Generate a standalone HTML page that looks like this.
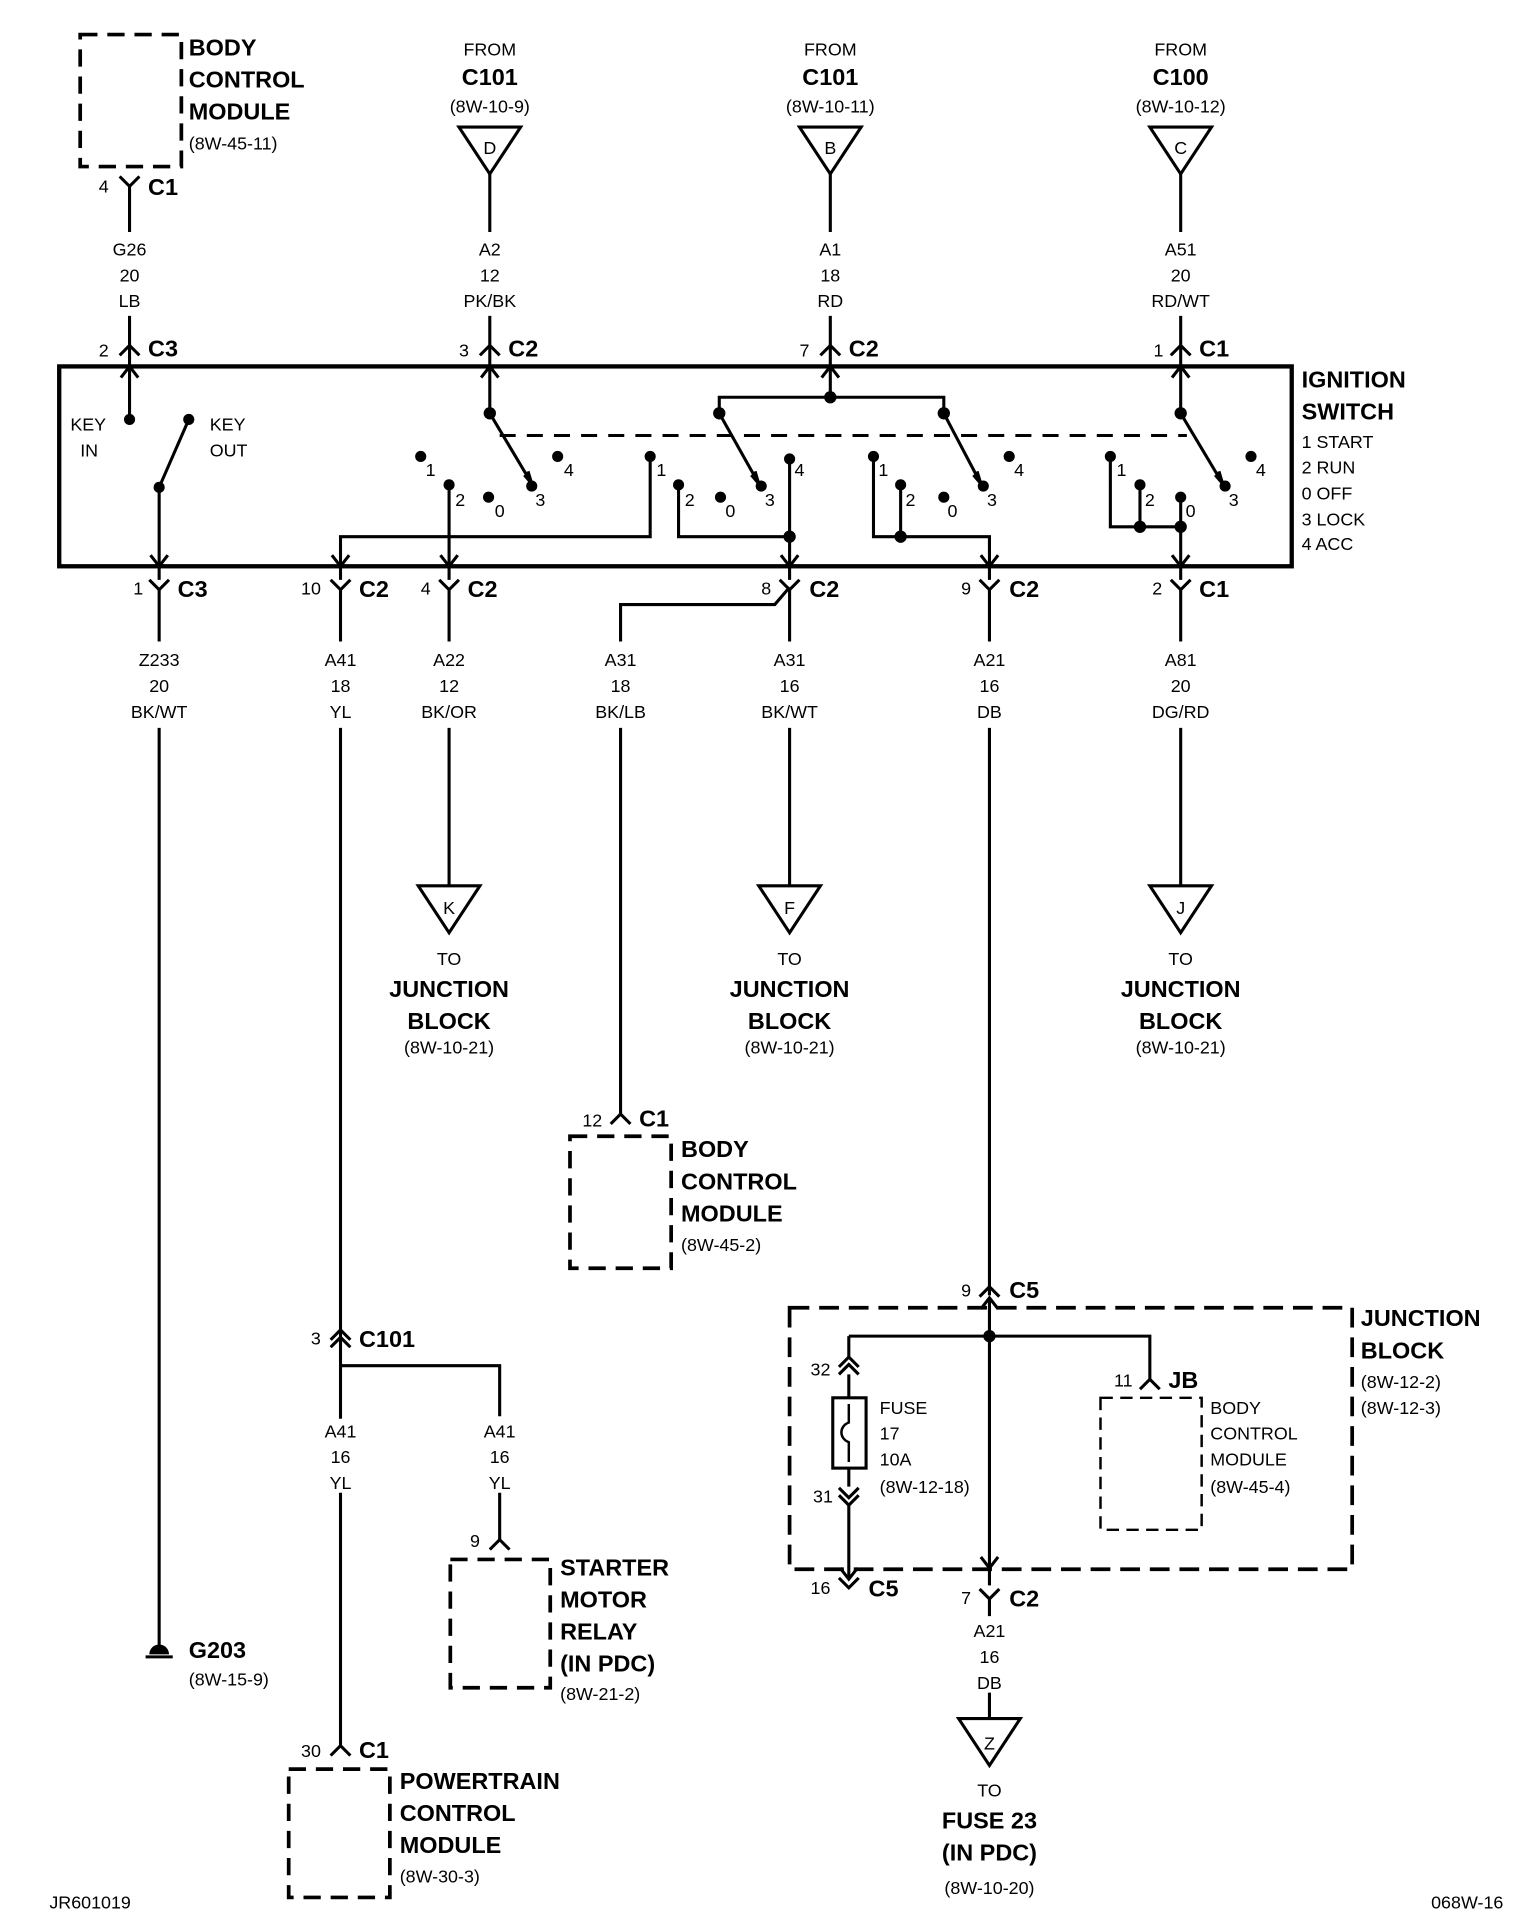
<!DOCTYPE html>
<html><head><meta charset="utf-8"><style>
html,body{margin:0;padding:0;background:#fff}
svg{display:block}
text{font-family:"Liberation Sans Narrow","Liberation Sans",sans-serif;fill:#000}
.s{font-size:14.5px}
.b{font-size:19px;font-weight:bold}
.m{text-anchor:middle}
</style></head><body>
<svg width="1536" height="1932" viewBox="0 0 1245 1566" preserveAspectRatio="none" xmlns="http://www.w3.org/2000/svg">
<defs>
<path id="y" d="M-8,-8 L0,0 L8,-8" fill="none" stroke="#000" stroke-width="2.5"/>
<path id="a" d="M-8,8 L0,0 L8,8" fill="none" stroke="#000" stroke-width="2.5"/>
<path id="aa" d="M-8,8 L0,0 L8,8 M-8,14 L0,6 L8,14" fill="none" stroke="#000" stroke-width="2.5"/>
<path id="yy" d="M-8,-8 L0,0 L8,-8 M-8,-14 L0,-6 L8,-14" fill="none" stroke="#000" stroke-width="2.5"/>
<path id="tri" d="M-25,0 L25,0 L0,38 Z" fill="#fff" stroke="#000" stroke-width="2.5"/>
</defs>
<g stroke="#000" stroke-width="2.5" fill="none">
<rect x="65" y="28" width="82" height="107" stroke-dasharray="14,8" stroke-width="3"/>
<rect x="462" y="921" width="82" height="107" stroke-dasharray="14,8" stroke-width="3"/>
<rect x="365" y="1264" width="81" height="104" stroke-dasharray="14,8" stroke-width="3"/>
<rect x="234" y="1434" width="82" height="104" stroke-dasharray="14,8" stroke-width="3"/>
<rect x="640" y="1060" width="456" height="212" stroke-dasharray="16,8" stroke-width="3"/>
<rect x="892" y="1133" width="82" height="107" stroke-dasharray="10,6" stroke-width="2"/>
<rect x="48" y="297" width="999" height="162" stroke-width="3.5"/>
<line x1="405" y1="353" x2="962" y2="353" stroke-dasharray="13,9"/>
<!-- top wires (broken around labels) -->
<path d="M105,150 V188 M105,256 V297 M397,140 V188 M397,256 V335 M673,140 V188 M673,256 V322 M957,140 V188 M957,256 V335"/>
<path d="M105,297 V340"/>
<path d="M583,335 V322 H765 V335"/>
<path d="M397,335 L431,392 M583,335 L615,392 M765,335 L795,392 M957,335 L991,392 M129,395 L153,340"/>
<path d="M129,395 V470 M364,393 V470 M276,470 V435 H527 V370 M550,393 V435 H640 M640,372 V470 M708,370 V435 H802 V470 M730,393 V435 M900,370 V427 H957 M924,393 V427 M957,403 V470"/>
<!-- bottom wires -->
<path d="M129,478 V520 M129,590 V1335 M276,478 V520 M276,590 V1150 M276,1107 H405 V1148 M405,1210 V1248 M276,1210 V1415 M364,478 V520 M364,590 V718 M640,478 V520 M640,590 V718 M957,478 V520 M957,590 V718 M802,478 V520 M802,590 V1050 M640,476 L628,490 H503 V520 M503,590 V905"/>
<path d="M802,1052 V1285 M802,1295 V1310 M802,1372 V1393 M688,1083 H932 V1118 M688,1083 V1100 M688,1114 V1133 M688,1190 V1205 M688,1220 V1280"/>
<rect x="675" y="1133" width="27" height="57"/>
<path d="M688,1138 V1153 C680,1156 680,1166 688,1169 V1185" stroke-width="2"/>
<path d="M98,306 L105,297 L112,306 M390,306 L397,297 L404,306 M666,306 L673,297 L680,306 M950,306 L957,297 L964,306"/>
<path d="M122,450 L129,459 L136,450 M269,450 L276,459 L283,450 M357,450 L364,459 L371,450 M633,450 L640,459 L647,450 M795,450 L802,459 L809,450 M950,450 L957,459 L964,450"/>
<path d="M795,1061 L802,1052 L809,1061 M681,1271 L688,1280 L695,1271 M795,1262 L802,1271 L809,1262 M425,385 L431,392 L428,382 M609,385 L615,392 L612,382 M789,385 L795,392 L792,382 M985,385 L991,392 L988,382"/>
<path d="M118,1343 H140"/>
</g>
<path d="M121,1341 A8,8 0 0 1 137,1341 Z" fill="#000"/>
<use href="#y" x="105" y="151"/>
<use href="#a" x="105" y="280"/><use href="#a" x="397" y="280"/><use href="#a" x="673" y="280"/><use href="#a" x="957" y="280"/>
<use href="#y" x="129" y="478"/><use href="#y" x="276" y="478"/><use href="#y" x="364" y="478"/><use href="#y" x="640" y="478"/><use href="#y" x="802" y="478"/><use href="#y" x="957" y="478"/>
<use href="#a" x="503" y="903"/><use href="#a" x="405" y="1248"/><use href="#a" x="276" y="1415"/><use href="#a" x="932" y="1118"/>
<use href="#aa" x="276" y="1078"/><use href="#a" x="802" y="1043"/>
<use href="#aa" x="688" y="1100"/><use href="#yy" x="688" y="1220"/>
<use href="#y" x="688" y="1287"/><use href="#y" x="802" y="1296"/>
<use href="#tri" x="397" y="103"/><use href="#tri" x="673" y="103"/><use href="#tri" x="957" y="103"/>
<use href="#tri" x="364" y="718"/><use href="#tri" x="640" y="718"/><use href="#tri" x="957" y="718"/><use href="#tri" x="802" y="1393"/>
<g fill="#000">
<circle cx="105" cy="340" r="4.5"/><circle cx="153" cy="340" r="4.5"/><circle cx="129" cy="395" r="4.5"/>
<circle cx="397" cy="335" r="5"/><circle cx="583" cy="335" r="5"/><circle cx="765" cy="335" r="5"/><circle cx="957" cy="335" r="5"/><circle cx="673" cy="322" r="5"/>
<circle cx="341" cy="370" r="4.5"/><circle cx="364" cy="393" r="4.5"/><circle cx="396" cy="403" r="4.5"/><circle cx="431" cy="394" r="4.5"/><circle cx="452" cy="370" r="4.5"/>
<circle cx="527" cy="370" r="4.5"/><circle cx="550" cy="393" r="4.5"/><circle cx="584" cy="403" r="4.5"/><circle cx="617" cy="394" r="4.5"/><circle cx="640" cy="372" r="4.5"/>
<circle cx="708" cy="370" r="4.5"/><circle cx="730" cy="393" r="4.5"/><circle cx="765" cy="403" r="4.5"/><circle cx="797" cy="394" r="4.5"/><circle cx="818" cy="370" r="4.5"/>
<circle cx="900" cy="370" r="4.5"/><circle cx="924" cy="393" r="4.5"/><circle cx="957" cy="403" r="4.5"/><circle cx="993" cy="394" r="4.5"/><circle cx="1014" cy="370" r="4.5"/>
<circle cx="640" cy="435" r="5"/><circle cx="730" cy="435" r="5"/><circle cx="924" cy="427" r="5"/><circle cx="957" cy="427" r="5"/><circle cx="802" cy="1083" r="5"/>
</g>
<g class="s">
<text x="345" y="386">1</text><text x="369" y="410">2</text><text x="401" y="419">0</text><text x="434" y="410">3</text><text x="457" y="386">4</text>
<text x="532" y="386">1</text><text x="555" y="410">2</text><text x="588" y="419">0</text><text x="620" y="410">3</text><text x="644" y="386">4</text>
<text x="712" y="386">1</text><text x="734" y="410">2</text><text x="768" y="419">0</text><text x="800" y="410">3</text><text x="822" y="386">4</text>
<text x="905" y="386">1</text><text x="928" y="410">2</text><text x="961" y="419">0</text><text x="996" y="410">3</text><text x="1018" y="386">4</text>
<text x="57" y="349">KEY</text><text x="65" y="370">IN</text><text x="170" y="349">KEY</text><text x="170" y="370">OUT</text>
</g>
<g class="b"><text x="153" y="45">BODY</text><text x="153" y="71">CONTROL</text><text x="153" y="97">MODULE</text></g>
<text class="s" x="153" y="121">(8W-45-11)</text>
<text class="s" x="80" y="156">4</text><text class="b" x="120" y="158">C1</text>
<g class="s m"><text x="105" y="207">G26</text><text x="105" y="228">20</text><text x="105" y="249">LB</text></g>
<g class="m">
<text class="s" x="397" y="45">FROM</text><text class="b" x="397" y="69">C101</text><text class="s" x="397" y="91">(8W-10-9)</text><text class="s" x="397" y="125">D</text>
<text class="s" x="673" y="45">FROM</text><text class="b" x="673" y="69">C101</text><text class="s" x="673" y="91">(8W-10-11)</text><text class="s" x="673" y="125">B</text>
<text class="s" x="957" y="45">FROM</text><text class="b" x="957" y="69">C100</text><text class="s" x="957" y="91">(8W-10-12)</text><text class="s" x="957" y="125">C</text>
</g>
<g class="s m">
<text x="397" y="207">A2</text><text x="397" y="228">12</text><text x="397" y="249">PK/BK</text>
<text x="673" y="207">A1</text><text x="673" y="228">18</text><text x="673" y="249">RD</text>
<text x="957" y="207">A51</text><text x="957" y="228">20</text><text x="957" y="249">RD/WT</text>
</g>
<g class="s"><text x="80" y="289">2</text><text x="372" y="289">3</text><text x="648" y="289">7</text><text x="935" y="289">1</text></g>
<g class="b"><text x="120" y="289">C3</text><text x="412" y="289">C2</text><text x="688" y="289">C2</text><text x="972" y="289">C1</text></g>
<g class="b"><text x="1055" y="314">IGNITION</text><text x="1055" y="340">SWITCH</text></g>
<g class="s"><text x="1055" y="363">1 START</text><text x="1055" y="384">2 RUN</text><text x="1055" y="405">0 OFF</text><text x="1055" y="426">3 LOCK</text><text x="1055" y="446">4 ACC</text></g>
<g class="s"><text x="108" y="482">1</text><text x="244" y="482">10</text><text x="341" y="482">4</text><text x="617" y="482">8</text><text x="779" y="482">9</text><text x="934" y="482">2</text></g>
<g class="b"><text x="144" y="484">C3</text><text x="291" y="484">C2</text><text x="379" y="484">C2</text><text x="656" y="484">C2</text><text x="818" y="484">C2</text><text x="972" y="484">C1</text></g>
<g class="s m">
<text x="129" y="540">Z233</text><text x="129" y="561">20</text><text x="129" y="582">BK/WT</text>
<text x="276" y="540">A41</text><text x="276" y="561">18</text><text x="276" y="582">YL</text>
<text x="364" y="540">A22</text><text x="364" y="561">12</text><text x="364" y="582">BK/OR</text>
<text x="503" y="540">A31</text><text x="503" y="561">18</text><text x="503" y="582">BK/LB</text>
<text x="640" y="540">A31</text><text x="640" y="561">16</text><text x="640" y="582">BK/WT</text>
<text x="802" y="540">A21</text><text x="802" y="561">16</text><text x="802" y="582">DB</text>
<text x="957" y="540">A81</text><text x="957" y="561">20</text><text x="957" y="582">DG/RD</text>
<text x="364" y="741">K</text><text x="640" y="741">F</text><text x="957" y="741">J</text>
<text x="364" y="782">TO</text><text x="640" y="782">TO</text><text x="957" y="782">TO</text>
<text x="364" y="854">(8W-10-21)</text><text x="640" y="854">(8W-10-21)</text><text x="957" y="854">(8W-10-21)</text>
</g>
<g class="b m">
<text x="364" y="808">JUNCTION</text><text x="364" y="834">BLOCK</text>
<text x="640" y="808">JUNCTION</text><text x="640" y="834">BLOCK</text>
<text x="957" y="808">JUNCTION</text><text x="957" y="834">BLOCK</text>
</g>
<text class="s" x="472" y="913">12</text><text class="b" x="518" y="913">C1</text>
<g class="b"><text x="552" y="938">BODY</text><text x="552" y="964">CONTROL</text><text x="552" y="990">MODULE</text></g>
<text class="s" x="552" y="1014">(8W-45-2)</text>
<text class="s" x="252" y="1090">3</text><text class="b" x="291" y="1092">C101</text>
<g class="s m">
<text x="276" y="1165">A41</text><text x="276" y="1186">16</text><text x="276" y="1207">YL</text>
<text x="405" y="1165">A41</text><text x="405" y="1186">16</text><text x="405" y="1207">YL</text>
</g>
<text class="s" x="381" y="1254">9</text>
<g class="b"><text x="454" y="1277">STARTER</text><text x="454" y="1303">MOTOR</text><text x="454" y="1329">RELAY</text><text x="454" y="1355">(IN PDC)</text></g>
<text class="s" x="454" y="1378">(8W-21-2)</text>
<text class="b" x="153" y="1344">G203</text><text class="s" x="153" y="1366">(8W-15-9)</text>
<text class="s" x="244" y="1424">30</text><text class="b" x="291" y="1425">C1</text>
<g class="b"><text x="324" y="1450">POWERTRAIN</text><text x="324" y="1476">CONTROL</text><text x="324" y="1502">MODULE</text></g>
<text class="s" x="324" y="1526">(8W-30-3)</text>
<text class="s" x="779" y="1051">9</text><text class="b" x="818" y="1052">C5</text>
<g class="b"><text x="1103" y="1075">JUNCTION</text><text x="1103" y="1101">BLOCK</text></g>
<g class="s"><text x="1103" y="1125">(8W-12-2)</text><text x="1103" y="1146">(8W-12-3)</text></g>
<text class="s" x="657" y="1115">32</text><text class="s" x="659" y="1218">31</text><text class="s" x="657" y="1292">16</text><text class="b" x="704" y="1294">C5</text>
<g class="s"><text x="713" y="1146">FUSE</text><text x="713" y="1167">17</text><text x="713" y="1188">10A</text><text x="713" y="1210">(8W-12-18)</text></g>
<text class="s" x="903" y="1124">11</text><text class="b" x="947" y="1125">JB</text>
<g class="s"><text x="981" y="1146">BODY</text><text x="981" y="1167">CONTROL</text><text x="981" y="1188">MODULE</text><text x="981" y="1210">(8W-45-4)</text></g>
<text class="s" x="779" y="1300">7</text><text class="b" x="818" y="1302">C2</text>
<g class="s m"><text x="802" y="1327">A21</text><text x="802" y="1348">16</text><text x="802" y="1369">DB</text><text x="802" y="1418">Z</text><text x="802" y="1456">TO</text><text x="802" y="1535">(8W-10-20)</text></g>
<g class="b m"><text x="802" y="1482">FUSE 23</text><text x="802" y="1508">(IN PDC)</text></g>
<text class="s" x="40" y="1547">JR601019</text><text class="s" x="1160" y="1547">068W-16</text>
</svg>
</body></html>
